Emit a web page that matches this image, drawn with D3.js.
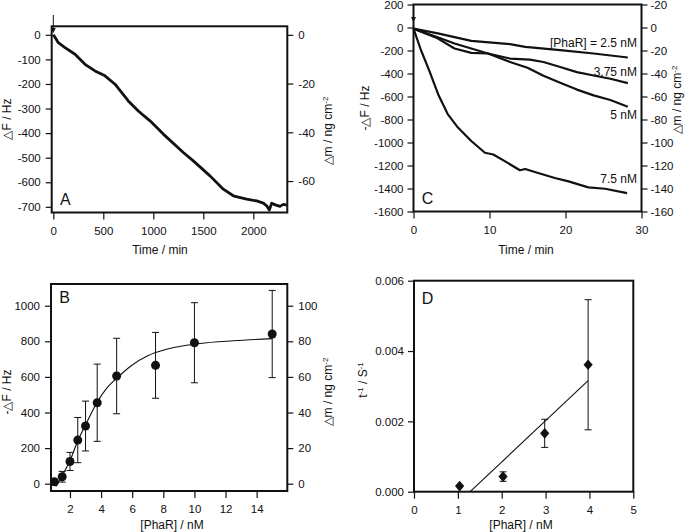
<!DOCTYPE html>
<html>
<head>
<meta charset="utf-8">
<script src="https://cdn.jsdelivr.net/npm/d3@7"></script>
<style>
  body { margin: 0; background: #fff; }
  svg text { font-family: "Liberation Sans", Arial, sans-serif; fill: #111; }
  .tick text { font-size: 11.5px; }
  .tick line { stroke: #111; stroke-width: 1.2; }
</style>
</head>
<body>
<div id="chart"></div>
<script>
// Panel A: frequency shift over time
var aTime  = [0, 20, 50, 117, 217, 317, 417, 517, 617, 750, 850, 967, 1100, 1300, 1400, 1567, 1700, 1800, 1850, 1934, 2034, 2100, 2134, 2160, 2184, 2220, 2267, 2300, 2334];
var aShift = [0, -12, -32, -52, -79, -120, -147, -167, -201, -269, -310, -350, -404, -479, -513, -574, -628, -655, -660, -669, -676, -685, -696, -713, -685, -692, -698, -690, -693];

// Panel C: four PhaR concentrations
var c25Time   = [0, 3.2, 7.6, 12.7, 14.7, 19.3, 23.7, 28.2];
var c25Shift  = [-10, -51, -116, -145, -168, -197, -226, -261];
var c375Time  = [0, 1.5, 3, 5.4, 7.6, 9.8, 12.7, 15.3, 17.1, 19.3, 21.5, 23.7, 25.9, 28.2];
var c375Shift = [-10, -50, -88, -183, -221, -226, -270, -279, -300, -344, -388, -417, -446, -484];
var c5Time    = [0, 1.5, 3, 5.4, 7.6, 9.8, 12.7, 15, 17.1, 19.3, 21.5, 23.7, 25.9, 28.2];
var c5Shift   = [-10, -45, -80, -139, -183, -226, -300, -350, -420, -480, -540, -590, -630, -689];
var c75Time   = [0, 1.0, 2.1, 3.3, 4.5, 5.85, 7.6, 9.4, 10.5, 12.0, 14.0, 14.7, 16.4, 18.6, 20.4, 23.0, 25.2, 28.1];
var c75Shift  = [-10, -200, -380, -590, -753, -870, -987, -1089, -1104, -1162, -1241, -1230, -1265, -1309, -1338, -1390, -1402, -1440];
var cLabels   = ["[PhaR] = 2.5 nM", "3.75 nM", "5 nM", "7.5 nM"];

// Panel B: saturation vs concentration
var bConc  = [1, 1.5, 2, 2.5, 3, 3.75, 5, 7.5, 10, 15];
var bShift = [11, 39, 125, 245, 324, 455, 605, 665, 792, 841];
var bErr   = [6, 30, 51, 127, 140, 217, 212, 185, 225, 245];
var bFitConc  = [1.1, 1.5, 2, 2.5, 3, 3.7, 4.35, 5, 6, 7, 8.2, 9.3, 10.35, 12.5, 15];
var bFitShift = [-15, 45, 130, 240, 330, 451, 536, 592, 667, 719, 755, 775, 788, 803, 815];

// Panel D: rate vs concentration
var dConc = [1.04, 2.03, 2.98, 3.97];
var dRate = [0.00016, 0.00043, 0.00166, 0.00361];
var dErr  = [0, 0.000135, 0.0004, 0.00185];
var dFitConc = [1.28, 3.97];
var dFitRate = [0, 0.00316];

var svg = d3.select("#chart")
    .append("svg")
    .attr("width", 685)
    .attr("height", 532);

// plain hyphen minus, no thousands separator
var plain = d => String(d);

function frame(xs, ys) {
  var xr = xs.range(), yr = ys.range();
  var x0 = Math.min(xr[0], xr[1]), y0 = Math.min(yr[0], yr[1]);
  svg.append("rect")
    .attr("x", x0).attr("y", y0)
    .attr("width", Math.abs(xr[1] - xr[0])).attr("height", Math.abs(yr[1] - yr[0]))
    .attr("fill", "none").attr("stroke", "#111").attr("stroke-width", 2);
}

function drawAxis(gen, tx, ty) {
  var g = svg.append("g")
    .attr("transform", `translate(${tx}, ${ty})`)
    .call(gen);
  g.select(".domain").remove();
  return g;
}

function title(x, y, rotate, parts) {
  var t = svg.append("text")
    .attr("transform", `translate(${x}, ${y})` + (rotate ? " rotate(-90)" : ""))
    .attr("text-anchor", "middle")
    .attr("dy", rotate ? "0.35em" : "0")
    .style("font-size", "12px");
  parts.forEach(function(p) {
    var s = t.append("tspan").text(p[0]);
    if (p[1] === "sup") s.attr("dy", -4).style("font-size", "8px");
    if (p[1] === "down") s.attr("dy", 4);
  });
  return t;
}

function letter(x, y, s) {
  svg.append("text").attr("x", x).attr("y", y).style("font-size", "16px").text(s);
}

function arrow(x, yTop, yTip) {
  svg.append("line").attr("x1", x).attr("x2", x).attr("y1", yTop).attr("y2", yTip - 4)
    .attr("stroke", "#111").attr("stroke-width", 1);
  svg.append("path")
    .attr("d", `M${x - 2.5},${yTip - 5}L${x + 2.5},${yTip - 5}L${x},${yTip}Z`)
    .attr("fill", "#111");
}

function curve(xs, ys, xv, yv, width, type) {
  var pts = xv.map(function(v, i) { return [v, yv[i]]; });
  svg.append("path")
    .datum(pts)
    .attr("fill", "none")
    .attr("stroke", "#111")
    .attr("stroke-width", width)
    .attr("stroke-linejoin", "round")
    .attr("d", d3.line().x(d => xs(d[0])).y(d => ys(d[1])).curve(type || d3.curveLinear));
}

// ---------- Panel A ----------
var xA = d3.scaleLinear().domain([-16, 2340]).range([51.7, 287.3]);
var yA = d3.scaleLinear().domain([34.6, -723]).range([26.3, 212.5]);
var yAr = d3.scaleLinear().domain([3.5, -72.9]).range([26.3, 212.5]);

curve(xA, yA, aTime, aShift, 2.8);
frame(xA, yA);
drawAxis(d3.axisLeft(yA).tickValues(d3.range(0, -701, -100)).tickFormat(plain).tickSize(6).tickPadding(5), 51.7, 0);
drawAxis(d3.axisRight(yAr).tickValues([0, -20, -40, -60]).tickFormat(plain).tickSize(6).tickPadding(5), 287.3, 0);
drawAxis(d3.axisBottom(xA).tickValues([0, 500, 1000, 1500, 2000]).tickFormat(plain).tickSize(7).tickPadding(7), 0, 212.5);
title(7, 119, true, [["\u25B3F / Hz"]]);
title(328, 131, true, [["\u25B3m / ng cm"], ["-2", "sup"]]);
title(160, 254, false, [["Time / min"]]);
letter(60, 205, "A");
arrow(xA(0), 15, 33);

// ---------- Panel C ----------
var xC = d3.scaleLinear().domain([0, 30]).range([413.5, 641.5]);
var yC = d3.scaleLinear().domain([200, -1600]).range([4.5, 211.5]);
var yCr = d3.scaleLinear().domain([20, -160]).range([4.5, 211.5]);

[[c25Time, c25Shift], [c375Time, c375Shift], [c5Time, c5Shift], [c75Time, c75Shift]].forEach(function(s) {
  curve(xC, yC, s[0], s[1], 2.2);
});
frame(xC, yC);
drawAxis(d3.axisLeft(yC).tickValues(d3.range(200, -1601, -200)).tickFormat(plain).tickSize(6).tickPadding(4), 413.5, 0);
drawAxis(d3.axisRight(yCr).tickValues(d3.range(20, -161, -20)).tickSize(6).tickPadding(3)
  .tickFormat(d => d === 0 ? "0" : "-" + Math.abs(d)), 641.5, 0);
drawAxis(d3.axisBottom(xC).tickValues([0, 10, 20, 30]).tickFormat(plain).tickSize(7).tickPadding(7), 0, 211.5);
title(365, 108, true, [["-\u25B3F / Hz"]]);
title(677, 100, true, [["\u25B3m / ng cm"], ["-2", "sup"]]);
title(526, 254, false, [["Time / min"]]);
letter(421.7, 204.3, "C");
arrow(xC(0), 10, 22);

var cLabelY = [46.5, 75.5, 118.5, 183];
cLabels.forEach(function(s, i) {
  svg.append("text").attr("x", 637).attr("y", cLabelY[i])
    .attr("text-anchor", "end").style("font-size", "12px").text(s);
});

// ---------- Panel B ----------
var xB = d3.scaleLinear().domain([0.78, 15.97]).range([51, 287.3]);
var yB = d3.scaleLinear().domain([1122, -41]).range([284, 491]);
var yBr = d3.scaleLinear().domain([112.2, -4.1]).range([284, 491]);

curve(xB, yB, bFitConc, bFitShift, 1.1, d3.curveMonotoneX);
var bg = svg.append("g").selectAll("g").data(bConc).enter().append("g");
bg.append("line")
  .attr("x1", d => xB(d)).attr("x2", d => xB(d))
  .attr("y1", (d, i) => yB(bShift[i] + bErr[i])).attr("y2", (d, i) => yB(bShift[i] - bErr[i]))
  .attr("stroke", "#111").attr("stroke-width", 1);
[1, -1].forEach(function(sg) {
  bg.append("line")
    .attr("x1", d => xB(d) - 3.5).attr("x2", d => xB(d) + 3.5)
    .attr("y1", (d, i) => yB(bShift[i] + sg * bErr[i])).attr("y2", (d, i) => yB(bShift[i] + sg * bErr[i]))
    .attr("stroke", "#111").attr("stroke-width", 1);
});
bg.append("circle")
  .attr("cx", d => xB(d)).attr("cy", (d, i) => yB(bShift[i]))
  .attr("r", 4.5).attr("fill", "#111");
frame(xB, yB);
drawAxis(d3.axisLeft(yB).tickValues(d3.range(0, 1001, 200)).tickFormat(plain).tickSize(6).tickPadding(5), 51, 0);
drawAxis(d3.axisRight(yBr).tickValues(d3.range(0, 101, 20)).tickFormat(plain).tickSize(6).tickPadding(5), 287.3, 0);
drawAxis(d3.axisBottom(xB).tickValues(d3.range(2, 15, 2)).tickFormat(plain).tickSize(7).tickPadding(7), 0, 491);
title(7, 392, true, [["-\u25B3F / Hz"]]);
title(328, 392, true, [["\u25B3m / ng cm"], ["-2", "sup"]]);
title(172, 529, false, [["[PhaR] / nM"]]);
letter(59.3, 303.3, "B");

// ---------- Panel D ----------
var xD = d3.scaleLinear().domain([0, 5]).range([414, 633.3]);
var yD = d3.scaleLinear().domain([0, 0.006]).range([491.7, 280.7]);

curve(xD, yD, dFitConc, dFitRate, 1.1);
var dg = svg.append("g").selectAll("g").data(dConc).enter().append("g").filter((d, i) => dErr[i] > 0);
dg.append("line")
  .attr("x1", d => xD(d)).attr("x2", d => xD(d))
  .attr("y1", d => yD(dRate[dConc.indexOf(d)] + dErr[dConc.indexOf(d)]))
  .attr("y2", d => yD(dRate[dConc.indexOf(d)] - dErr[dConc.indexOf(d)]))
  .attr("stroke", "#111").attr("stroke-width", 1);
[1, -1].forEach(function(sg) {
  dg.append("line")
    .attr("x1", d => xD(d) - 3.5).attr("x2", d => xD(d) + 3.5)
    .attr("y1", d => yD(dRate[dConc.indexOf(d)] + sg * dErr[dConc.indexOf(d)]))
    .attr("y2", d => yD(dRate[dConc.indexOf(d)] + sg * dErr[dConc.indexOf(d)]))
    .attr("stroke", "#111").attr("stroke-width", 1);
});
svg.append("g").selectAll("path").data(dConc).enter().append("path")
  .attr("d", d3.symbol(d3.symbolDiamond2, 60))
  .attr("transform", (d, i) => `translate(${xD(d)}, ${yD(dRate[i])}) scale(0.95, 1.1)`)
  .attr("fill", "#111");
frame(xD, yD);
drawAxis(d3.axisLeft(yD).tickValues([0, 0.002, 0.004, 0.006]).tickFormat(d3.format(".3f")).tickSize(6).tickPadding(4), 414, 0);
drawAxis(d3.axisBottom(xD).tickValues(d3.range(0, 6)).tickFormat(plain).tickSize(7).tickPadding(7), 0, 491.7);
title(363, 380, true, [["t"], ["-1", "sup"], [" / S", "down"], ["-1", "sup"]]);
title(521, 529, false, [["[PhaR] / nM"]]);
letter(421.7, 304.3, "D");
</script>
</body>
</html>
